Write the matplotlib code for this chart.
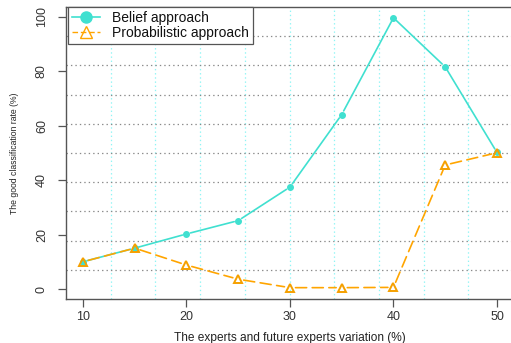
import numpy as np
import matplotlib
matplotlib.use("Agg")
import matplotlib.pyplot as plt
from matplotlib.lines import Line2D

# data
variation = [10, 15, 20, 25, 30, 35, 40, 45, 50]
belief = [10.1, 15.1, 20.3, 25.2, 37.5, 64.1, 99.6, 81.6, 50.2]
probabilistic = [10.1, 15.1, 8.9, 3.7, 0.6, 0.6, 0.7, 45.6, 50.1]
xticks = [10, 20, 30, 40, 50]
yticks = [0, 20, 40, 60, 80, 100]

c_belief = "#40E0D0"
c_prob = "#FFA500"

plt.rcParams['font.family'] = ['Liberation Sans', 'DejaVu Sans']
plt.rcParams['lines.scale_dashes'] = False

fig = plt.figure(figsize=(5.11, 3.43), dpi=100)
ax = fig.add_axes([66 / 511, 1 - 299 / 343, 447 / 511, 292 / 343])
ax.set_xlim(8.36, 51.55)
ax.set_ylim(-3.56, 103.56)

# grid like R's grid(10, 10)
x0, x1 = ax.get_xlim()
y0, y1 = ax.get_ylim()
for k in range(1, 10):
    ax.axvline(x0 + k * (x1 - x0) / 10, color="#8ff5f5", lw=0.9,
               linestyle=(0, (1, 2)), zorder=1)
    ax.axhline(y0 + k * (y1 - y0) / 10, color="#8a8a8a", lw=0.9,
               linestyle=(0, (1, 2.2)), zorder=1)

# type="b" style: segments with gaps around the points
def draw_b(xs, ys, color, ls, gap):
    for i in range(len(xs) - 1):
        ax.annotate("", xy=(xs[i + 1], ys[i + 1]), xytext=(xs[i], ys[i]),
                    arrowprops=dict(arrowstyle="-", color=color, lw=1.2,
                                    linestyle=ls, shrinkA=gap, shrinkB=gap),
                    zorder=3)

draw_b(variation, belief, c_belief, "-", 3)
draw_b(variation, probabilistic, c_prob, (0, (8, 4)), 4)

ax.plot(variation, belief, linestyle="none", marker="o", ms=4,
        color=c_belief, zorder=4)
ax.plot(variation, probabilistic, linestyle="none", marker="^", ms=5.5,
        mfc="none", mec="#F5A000", mew=1.4, zorder=4)

ax.set_xticks(xticks)
ax.set_yticks(yticks)
ax.tick_params(axis="both", colors="#555555", labelcolor="#333333",
               labelsize=9, length=6, width=0.9)
ax.tick_params(axis="x", pad=3)
ax.tick_params(axis="y", pad=7)
for lab in ax.get_yticklabels():
    lab.set_rotation(90)
    lab.set_va("center")
for sp in ax.spines.values():
    sp.set_color("#555555")
    sp.set_linewidth(1.0)
ax.spines["right"].set_visible(False)

ax.set_xlabel("The experts and future experts variation (%)", fontsize=8.6,
              color="#222222", labelpad=6)
ax.set_ylabel("The good classification rate (%)", fontsize=6.2,
              color="#222222", labelpad=12)

handles = [
    Line2D([], [], color=c_belief, lw=1.2, marker="o", ms=8),
    Line2D([], [], color=c_prob, lw=1.0, linestyle=(0, (4, 2)), marker="^",
           ms=9, mfc="none", mec=c_prob, mew=1.0),
]
leg = fig.legend(handles, ["Belief approach", "Probabilistic approach"],
                 loc="upper left", bbox_to_anchor=(68 / 511, 1 - 7 / 343),
                 borderaxespad=0, fancybox=False, framealpha=1,
                 edgecolor="#555555", fontsize=10, handlelength=2.0,
                 handletextpad=0.9, labelspacing=0.05, borderpad=0.3)
leg.get_frame().set_linewidth(0.9)
for t in leg.get_texts():
    t.set_color("#111111")

fig.savefig("out.png", dpi=100)
